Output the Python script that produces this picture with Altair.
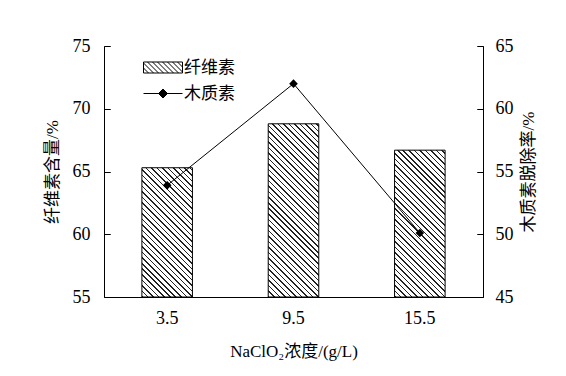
import math
import altair as alt
import pandas as pd

# ---- data ----
conc = ["3.5", "9.5", "15.5"]
cellulose = [65.3, 68.8, 66.7]      # left axis, %
lignin = [53.9, 62.0, 50.1]         # right axis, %
series = ["纤维素", "木质素"]
left_ticks = [55, 60, 65, 70, 75]
right_ticks = [45, 50, 55, 60, 65]

# ---- layout / style ----
W, H = 379, 251
LEFT_DOM = [55, 75]
RIGHT_DOM = [45, 65]
P_IN, P_OUT = 0.6, 0.3
SERIF = "Liberation Serif"
CJK = "Noto Sans CJK SC"
MIXED = "Liberation Serif, Noto Sans CJK SC"
TICK = 6
# grid dash that leaves a short inward tick at both ends of each grid line
GRID_DASH = [TICK, W - 2 * TICK, TICK, 3000]

df = pd.DataFrame({"c": conc, "cel": cellulose, "lig": lignin})
leg_df = pd.DataFrame({"s": series})

step = W / (len(conc) - P_IN + 2 * P_OUT)
bar_w = step * (1 - P_IN)


def hatch_gradient(bw, bh, period=3.9, dark=0.28, col="#222222"):
    s = bw * bw + bh * bh
    dx = (bw + bh) * bw / s
    dy = -(bw + bh) * bh / s
    span = (bw + bh) / math.sqrt(2)
    n = span / period
    stops = []
    i = 0
    while i < n:
        o0 = i / n
        o1 = min((i + dark) / n, 1)
        o2 = min((i + 1) / n, 1)
        stops += [(col, o0), (col, o1), ("white", o1), ("white", o2)]
        i += 1
    return alt.LinearGradient(
        gradient="linear",
        stops=[alt.GradientStop(color=c, offset=round(o, 5)) for c, o in stops],
        x1=0, y1=1, x2=round(dx, 5), y2=round(1 + dy, 5),
    )


def legend_hatch_path():
    r = 6.0
    x0, x1, y0, y1 = -6.0, 33.0, -5.5, 5.5
    parts = [f"M{x0/r:.3f},{y0/r:.3f}H{x1/r:.3f}V{y1/r:.3f}H{x0/r:.3f}Z"]
    c = x0 - y1
    while c < x1 - y0:
        lo = max(y0, x0 - c)
        hi = min(y1, x1 - c)
        if hi - lo > 0.3:
            parts.append(f"M{(lo+c)/r:.3f},{lo/r:.3f}L{(hi+c)/r:.3f},{hi/r:.3f}")
        c += 5.0
    return "".join(parts)


line_path = "M-1,0H5.5M2.25,-0.75L3,0L2.25,0.75L1.5,0Z"

axis_common = dict(
    labelFont=SERIF, labelFontSize=18, labelColor="black",
    titleFont=MIXED, titleFontSize=17, titleFontWeight="normal", titleColor="black",
    domainColor="black", domainWidth=1,
)

xenc = alt.X(
    "c:N", sort=conc,
    scale=alt.Scale(paddingInner=P_IN, paddingOuter=P_OUT),
    axis=alt.Axis(title="NaClO₂浓度/(g/L)", labelAngle=0, ticks=False, tickSize=0,
                  labelPadding=12, titlePadding=16, grid=False, **axis_common),
)

left_axis = alt.Axis(values=left_ticks, orient="left", title="纤维素含量/%",
                     ticks=False, tickSize=0, labelPadding=14, titlePadding=11,
                     grid=True, gridColor="black", gridWidth=1, gridDash=GRID_DASH,
                     gridOpacity=1, **axis_common)
right_axis = alt.Axis(values=right_ticks, orient="right", title="木质素脱除率/%",
                      titleAngle=270, titleBaseline="top", ticks=False, tickSize=0,
                      labelPadding=12, titlePadding=7, grid=True, gridColor="black",
                      gridWidth=1, gridDash=GRID_DASH, gridOpacity=1, **axis_common)

base = alt.Chart(df)

bars = []
for cat, val in zip(conc, cellulose):
    bh = (val - LEFT_DOM[0]) / (LEFT_DOM[1] - LEFT_DOM[0]) * H
    bars.append(
        base.transform_filter(alt.datum.c == cat)
        .mark_bar(fill=hatch_gradient(bar_w, bh), stroke="black", strokeWidth=1)
        .encode(
            x=xenc,
            y=alt.Y("cel:Q", scale=alt.Scale(domain=LEFT_DOM, zero=False, nice=False),
                    axis=left_axis),
            y2=alt.datum(LEFT_DOM[0]),
        )
    )
left = alt.layer(*bars)

yr = alt.Y("lig:Q", scale=alt.Scale(domain=RIGHT_DOM, zero=False, nice=False),
           axis=right_axis)
line = base.mark_line(color="black", strokeWidth=1).encode(x=xenc, y=yr)
pts = base.mark_point(shape="diamond", filled=True, color="black", size=75,
                      opacity=1).encode(x=xenc, y=yr)

leg = alt.Legend(title=None, orient="none", legendX=37, legendY=13,
                 direction="vertical", symbolSize=144,
                 symbolStrokeWidth=1, symbolOpacity=1, labelOffset=26,
                 labelFont=CJK, labelFontSize=17, labelColor="black",
                 rowPadding=8, padding=0)
dummy = (
    alt.Chart(leg_df)
    .transform_filter("false")
    .mark_point(filled=True, strokeWidth=1)
    .encode(
        fill=alt.Fill("s:N", scale=alt.Scale(domain=series, range=["white", "black"]),
                      legend=leg),
        stroke=alt.Stroke("s:N", scale=alt.Scale(domain=series, range=["black", "black"]),
                          legend=leg),
        shape=alt.Shape("s:N", scale=alt.Scale(domain=series,
                                               range=[legend_hatch_path(), line_path]),
                        legend=leg),
    )
)

right = alt.layer(line, pts, dummy)

chart = (
    alt.layer(left, right)
    .resolve_scale(y="independent")
    .properties(
        width=W, height=H,
        autosize=alt.AutoSizeParams(type="none"),
        padding={"left": 104, "top": 46, "right": 83, "bottom": 79},
        background="white",
    )
    .configure_view(stroke=None)
)

chart.save("out.html", embed_options={"renderer": "svg", "actions": False})
